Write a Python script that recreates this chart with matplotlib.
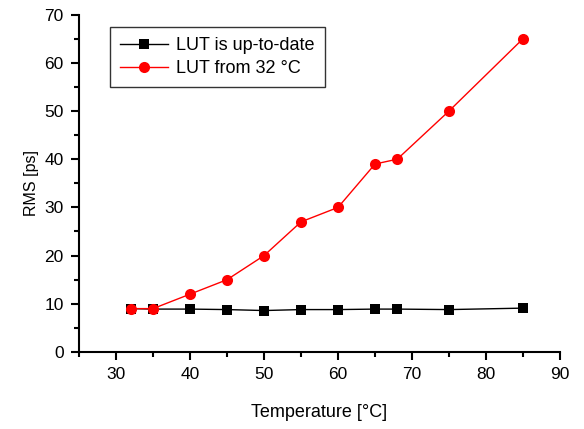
import matplotlib
matplotlib.use("Agg")
import matplotlib.pyplot as plt
from matplotlib.ticker import MultipleLocator

plt.rcParams['font.family'] = ['Liberation Sans', 'DejaVu Sans']

temps = [32, 35, 40, 45, 50, 55, 60, 65, 68, 75, 85]
rms_uptodate = [9.0, 8.9, 8.9, 8.8, 8.6, 8.8, 8.8, 8.9, 8.9, 8.8, 9.1]
rms_from32 = [9.0, 9.0, 12.0, 15.0, 20.0, 27.0, 30.0, 39.0, 40.0, 50.0, 65.0]
labels = ["LUT is up-to-date", "LUT from 32 °C"]

fig = plt.figure(figsize=(5.84, 4.29), dpi=100)
ax = fig.add_axes([0.1353, 0.1795, 0.959 - 0.1353, 0.966 - 0.1795])

ax.plot(temps, rms_uptodate, color='black', lw=1.0, marker='s', ms=7,
        mew=0, label=labels[0])
ax.plot(temps, rms_from32, color='red', lw=1.0, marker='o', ms=8,
        mew=0, label=labels[1])

ax.set_xlim(25, 90)
ax.set_ylim(0, 70)
ax.xaxis.set_major_locator(MultipleLocator(10))
ax.xaxis.set_minor_locator(MultipleLocator(5))
ax.yaxis.set_major_locator(MultipleLocator(10))
ax.yaxis.set_minor_locator(MultipleLocator(5))

for s in ['top', 'right']:
    ax.spines[s].set_visible(False)
for s in ['left', 'bottom']:
    ax.spines[s].set_linewidth(1.5)

ax.tick_params(which='major', direction='out', length=6, width=1.5,
               labelsize=12.5, pad=5)
ax.tick_params(which='minor', direction='out', length=3.5, width=1.5)

ax.set_xlabel("Temperature [°C]", fontsize=13, labelpad=16)
ax.set_ylabel("RMS [ps]", fontsize=11.5, labelpad=4)

leg = ax.legend(loc='upper left', bbox_to_anchor=(0.045, 0.99), fontsize=13,
                frameon=True, fancybox=False, edgecolor='black',
                handlelength=2.7, handletextpad=0.45, borderpad=0.55,
                borderaxespad=0.5, labelspacing=0.35)
leg.get_frame().set_linewidth(1.0)

fig.savefig("out.png", dpi=100)
